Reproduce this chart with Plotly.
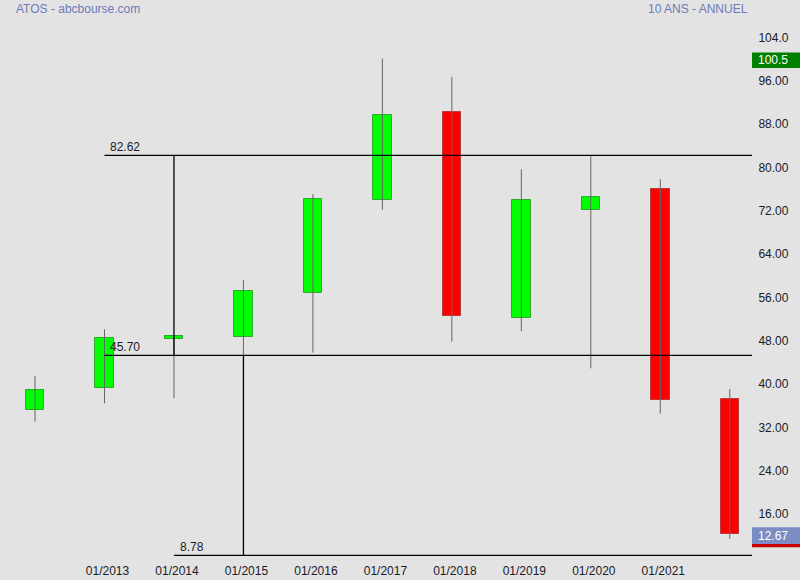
import plotly.graph_objects as go

# ---- data ----
years = [2012, 2013, 2014, 2015, 2016, 2017, 2018, 2019, 2020, 2021, 2022]
opens = [35.55, 39.61, 48.77, 49.14, 57.15, 74.43, 90.62, 52.54, 72.48, 76.41, 37.64]
highs = [41.89, 50.51, 49.40, 59.60, 75.48, 100.5, 97.08, 80.04, 82.62, 78.25, 39.49]
lows = [33.45, 36.85, 37.77, 45.70, 46.19, 72.59, 48.22, 50.14, 43.31, 34.93, 11.85]
closes = [39.30, 48.84, 49.21, 57.58, 74.51, 90.01, 53.02, 74.32, 74.88, 37.40, 12.67]

xtick_labels = ["01/2013", "01/2014", "01/2015", "01/2016", "01/2017",
                "01/2018", "01/2019", "01/2020", "01/2021"]
ytick_vals = [16, 24, 32, 40, 48, 56, 64, 72, 80, 88, 96, 104]
ytick_text = ["16.00", "24.00", "32.00", "40.00", "48.00", "56.00", "64.00",
              "72.00", "80.00", "88.00", "96.00", "104.0"]

level_high = 82.62
level_mid = 45.70
level_low = 8.78
max_label = 100.5
last_label = 12.67

# ---- figure ----
idx = list(range(len(years)))
XMAX = 10.32
BG = "#e3e3e3"
FONT = "Liberation Sans, Arial, sans-serif"

fig = go.Figure()

# wicks
wx, wy = [], []
for i, lo, hi in zip(idx, lows, highs):
    wx += [i, i, None]
    wy += [lo, hi, None]
fig.add_trace(go.Scatter(x=wx, y=wy, mode="lines",
                         line=dict(color="#666666", width=1),
                         hoverinfo="skip", showlegend=False))

# bodies
base = [min(o, c) for o, c in zip(opens, closes)]
height = [abs(c - o) for o, c in zip(opens, closes)]
fill = ["#00ff00" if c >= o else "#ff0000" for o, c in zip(opens, closes)]
edge = ["#2fa82f" if c >= o else "#b83a3a" for o, c in zip(opens, closes)]
fig.add_trace(go.Bar(x=idx, y=height, base=base, width=0.265,
                     marker=dict(color=fill, line=dict(color=edge, width=1)),
                     showlegend=False, hoverinfo="skip"))

shapes = []
line_style = dict(color="black", width=1.3)
# horizontal levels
shapes.append(dict(type="line", xref="x", yref="y", x0=1, x1=XMAX,
                   y0=level_high, y1=level_high, line=line_style, layer="above"))
shapes.append(dict(type="line", xref="x", yref="y", x0=1, x1=XMAX,
                   y0=level_mid, y1=level_mid, line=line_style, layer="above"))
shapes.append(dict(type="line", xref="x", yref="y", x0=2, x1=XMAX,
                   y0=level_low, y1=level_low, line=line_style, layer="above"))
# vertical connectors
shapes.append(dict(type="line", xref="x", yref="y", x0=2, x1=2,
                   y0=level_high, y1=level_mid, line=line_style, layer="above"))
shapes.append(dict(type="line", xref="x", yref="y", x0=3, x1=3,
                   y0=level_mid, y1=level_low, line=line_style, layer="above"))

# price boxes on the right
shapes.append(dict(type="rect", xref="paper", yref="y", x0=1.0, x1=1.07,
                   ysizemode="pixel", yanchor=max_label, y0=-9.5, y1=6,
                   fillcolor="#008000", line=dict(width=0), layer="above"))
shapes.append(dict(type="rect", xref="paper", yref="y", x0=1.0, x1=1.07,
                   ysizemode="pixel", yanchor=last_label, y0=-9.7, y1=7,
                   fillcolor="#7b8cc4", line=dict(width=0), layer="above"))
shapes.append(dict(type="rect", xref="paper", yref="y", x0=1.0, x1=1.07,
                   ysizemode="pixel", yanchor=last_label, y0=-13, y1=-9.7,
                   fillcolor="#cc0000", line=dict(width=0), layer="above"))

annotations = []
for val, xs in [(level_high, 1), (level_mid, 1), (level_low, 2)]:
    annotations.append(dict(x=xs, y=val, xref="x", yref="y", text=f"{val:.2f}",
                            showarrow=False, xanchor="left", yanchor="bottom",
                            xshift=4, yshift=-1,
                            font=dict(family=FONT, size=12, color="#1a1a28")))
annotations.append(dict(x=1.0, y=max_label, xref="paper", yref="y",
                        text=f"{max_label}", showarrow=False, xanchor="left",
                        xshift=4, yshift=-1.5,
                        font=dict(family=FONT, size=12, color="white")))
annotations.append(dict(x=1.0, y=last_label, xref="paper", yref="y",
                        text=f"{last_label:.2f}", showarrow=False, xanchor="left",
                        xshift=4, yshift=-1.5,
                        font=dict(family=FONT, size=12, color="white")))
annotations.append(dict(x=14 / 752, y=1.0204, xref="paper", yref="paper",
                        text="ATOS - abcbourse.com", showarrow=False,
                        xanchor="left", yanchor="middle",
                        font=dict(family=FONT, size=12, color="#6c7bb8")))
annotations.append(dict(x=750 / 752, y=1.0204, xref="paper", yref="paper",
                        text="10 ANS - ANNUEL", showarrow=False,
                        xanchor="right", yanchor="middle",
                        font=dict(family=FONT, size=12, color="#6c7bb8")))

fig.update_layout(
    width=800, height=580,
    margin=dict(l=0, r=48, t=20, b=22),
    paper_bgcolor=BG, plot_bgcolor=BG,
    showlegend=False,
    shapes=shapes, annotations=annotations,
    font=dict(family=FONT, size=12, color="#1a1a28"),
    bargap=0,
)
fig.update_xaxes(range=[-0.504, XMAX], tickvals=list(range(1, 10)),
                 ticktext=xtick_labels, showgrid=False, zeroline=False,
                 showline=False, ticks="outside", ticklen=2, tickcolor=BG,
                 ticklabelshift=3, ticklabelstandoff=0,
                 tickfont=dict(family=FONT, size=12, color="#1a1a28"),
                 fixedrange=True)
fig.update_yaxes(range=[8.29, 107.61], side="right", tickvals=ytick_vals,
                 ticktext=ytick_text, showgrid=False, zeroline=False,
                 showline=False, ticks="outside", ticklen=3, tickcolor=BG,
                 ticklabelshift=-2,
                 tickfont=dict(family=FONT, size=12, color="#1a1a28"),
                 fixedrange=True)

fig.write_html(
    "out.html",
    config={"displayModeBar": False},
    post_script="document.body.style.margin='0';document.body.style.overflow='hidden';",
)
